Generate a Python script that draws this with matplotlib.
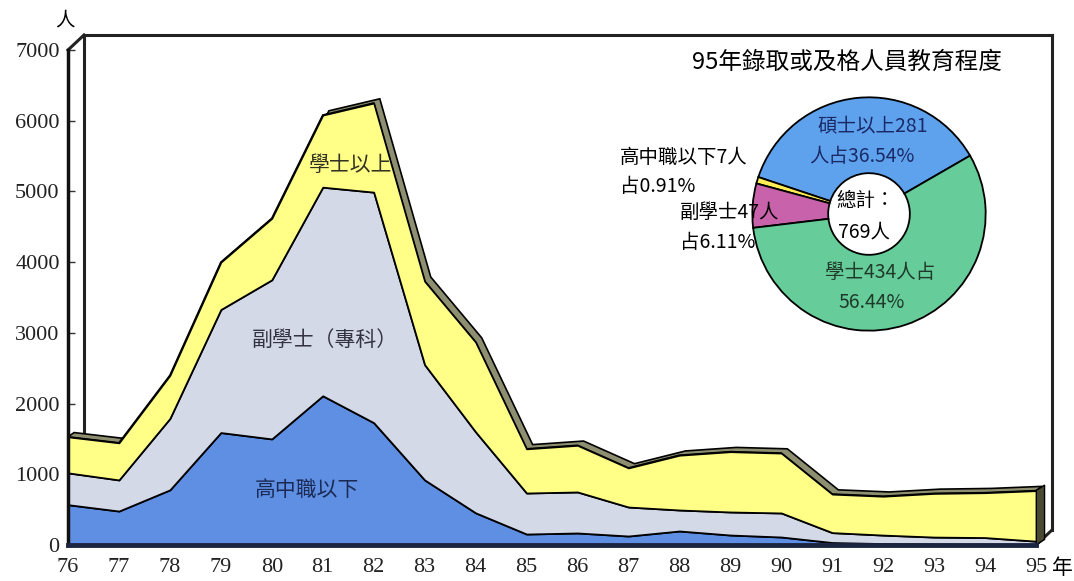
import matplotlib
matplotlib.use("Agg")
import matplotlib.pyplot as plt
from matplotlib.patches import Polygon
import numpy as np

plt.rcParams['font.family'] = ['Noto Sans CJK TC', 'DejaVu Sans']

# ---------------- data ----------------
years = [76, 77, 78, 79, 80, 81, 82, 83, 84, 85, 86, 87, 88, 89, 90, 91, 92, 93, 94, 95]
year_labels = [str(y) for y in years]
below_hs = [570, 480, 780, 1590, 1500, 2110, 1730, 920, 455, 155, 170, 127, 198, 141, 113, 35, 20, 12, 10, 7]
associate = [450, 440, 1010, 1740, 2250, 2950, 3260, 1630, 1145, 580, 580, 410, 297, 326, 340, 140, 120, 100, 95, 47]
bachelor_up = [510, 525, 610, 670, 870, 1020, 1260, 1180, 1270, 625, 660, 553, 775, 853, 847, 545, 550, 618, 635, 715]
series_names = ['高中職以下', '副學士（專科）', '學士以上']

yticks = [0, 1000, 2000, 3000, 4000, 5000, 6000, 7000]

pie_labels = ['碩士以上', '高中職以下', '副學士', '學士']
pie_values = [281, 7, 47, 434]
pie_total = 769

# ---------------- style ----------------
c_blue = '#5f8fe3'
c_grey = '#d4d9e8'
c_yellow = '#ffff88'
c_strip = '#8e8e70'
c_face = '#4a4a32'
pie_colors = ['#5ea2ee', '#ffee55', '#c862aa', '#66cc99']

W, H = 1074, 581
fig = plt.figure(figsize=(W / 100, H / 100), dpi=100)

def fx(px):
    return px / W

def fy(py):
    return 1 - py / H

# front plane: x 68..1036 px, y 545..50 px
ax = fig.add_axes([fx(68), fy(545), fx(1036) - fx(68), fy(50) - fy(545)])
ax.set_xlim(years[0], years[-1])
ax.set_ylim(0, 7000)
for s in ax.spines.values():
    s.set_visible(False)
ax.set_facecolor('none')

# back wall (3D frame) in axes fraction
ddx, ddy = 16 / 968, 15 / 495
frame_kw = dict(transform=ax.transAxes, color='#222222', lw=2.2, clip_on=False, zorder=0.5)
ax.plot([ddx, 1 + ddx], [1 + ddy, 1 + ddy], **frame_kw)
ax.plot([1 + ddx, 1 + ddx], [1 + ddy, ddy], **frame_kw)
ax.plot([ddx, ddx], [1 + ddy, ddy], **frame_kw)
ax.plot([0, ddx], [1, 1 + ddy], **frame_kw)
ax.plot([1, 1 + ddx], [0, ddy], **frame_kw)

x = np.array(years, dtype=float)
b = np.array(below_hs, dtype=float)
a = np.array(associate, dtype=float)
u = np.array(bachelor_up, dtype=float)
total = b + a + u

# 3D ribbon strip on the top edge
sdx, sdy = 0.12, 60
strip = np.vstack([np.column_stack([x, total]),
                   np.column_stack([x[::-1] + sdx, total[::-1] + sdy])])
ax.add_patch(Polygon(strip, closed=True, facecolor=c_strip, edgecolor='black',
                     lw=1.2, zorder=1, clip_on=False))
# right end face
face = [(x[-1], 0), (x[-1], total[-1]), (x[-1] + sdx * 1.4, total[-1] + sdy * 1.3),
        (x[-1] + sdx * 1.4, sdy * 1.3)]
ax.add_patch(Polygon(face, closed=True, facecolor=c_face, edgecolor='black',
                     lw=1.0, zorder=1, clip_on=False))

ax.stackplot(x, b, a, u, colors=[c_blue, c_grey, c_yellow], edgecolor='black',
             linewidth=1.3, zorder=2)

# front axes lines
ax.plot([0, 0], [0, 1], transform=ax.transAxes, color='#111111', lw=2.5, clip_on=False, zorder=3)
ax.plot([0, 1], [0, 0], transform=ax.transAxes, color='#1c2540', lw=3.5, clip_on=False, zorder=3)

ax.set_xticks(years)
ax.set_xticklabels(year_labels, family='Liberation Serif', fontsize=16, color='#222222')
ax.set_yticks(yticks)
ax.set_yticklabels([str(v) for v in yticks], family='Liberation Serif', fontsize=16, color='#222222')
ax.tick_params(axis='x', length=0, pad=9)
ax.tick_params(axis='y', direction='in', length=5, width=1, pad=6, color='#333333')

# series labels
ax.text(81.55, 5380, series_names[2], fontsize=15, ha='center', va='center', color='#333322', zorder=5)
ax.text(81.05, 2900, series_names[1], fontsize=15, ha='center', va='center', color='#333344', zorder=5)
ax.text(80.7, 780, series_names[0], fontsize=15, ha='center', va='center', color='#1a2a55', zorder=5)

fig.text(fx(65), fy(20), '人', fontsize=14, ha='center', va='center')
fig.text(fx(1062), fy(568), '年', fontsize=15, ha='center', va='center')

# ---------------- pie ----------------
cx, cy, r = 869, 214, 119
pax = fig.add_axes([fx(cx - r), fy(cy + r), fx(2 * r), (2 * r) / H])
pax.pie(pie_values, colors=pie_colors, startangle=30, counterclock=True, radius=1,
        wedgeprops=dict(width=0.65, edgecolor='black', linewidth=1.3))
pax.set_xlim(-1.02, 1.02)
pax.set_ylim(-1.02, 1.02)
pax.set_aspect('equal')
pax.axis('off')

pct = [v / pie_total * 100 for v in pie_values]
fs = 14
fig.text(fx(847), fy(62), '95年錄取或及格人員教育程度', fontsize=17, ha='center', va='center')
fig.text(fx(873), fy(127), f'{pie_labels[0]}{pie_values[0]}', fontsize=fs, ha='center', va='center', color='#1a2a66')
fig.text(fx(862), fy(157), f'人占{pct[0]:.2f}%', fontsize=fs, ha='center', va='center', color='#1a2a66')
fig.text(fx(620), fy(157), f'{pie_labels[1]}{pie_values[1]}人', fontsize=fs, ha='left', va='center')
fig.text(fx(620), fy(187), f'占{pct[1]:.2f}%', fontsize=fs, ha='left', va='center')
fig.text(fx(680), fy(212), f'{pie_labels[2]}{pie_values[2]}人', fontsize=fs, ha='left', va='center')
fig.text(fx(680), fy(243), f'占{pct[2]:.2f}%', fontsize=fs, ha='left', va='center')
fig.text(fx(880), fy(272), f'{pie_labels[3]}{pie_values[3]}人占', fontsize=fs, ha='center', va='center', color='#1f3a2a')
fig.text(fx(872), fy(302), f'{pct[3]:.2f}%', fontsize=fs, ha='center', va='center', color='#1f3a2a')
fig.text(fx(866), fy(200), '總計：', fontsize=fs, ha='center', va='center')
fig.text(fx(864), fy(232), f'{pie_total}人', fontsize=fs, ha='center', va='center')

fig.savefig('out.png', dpi=100)
